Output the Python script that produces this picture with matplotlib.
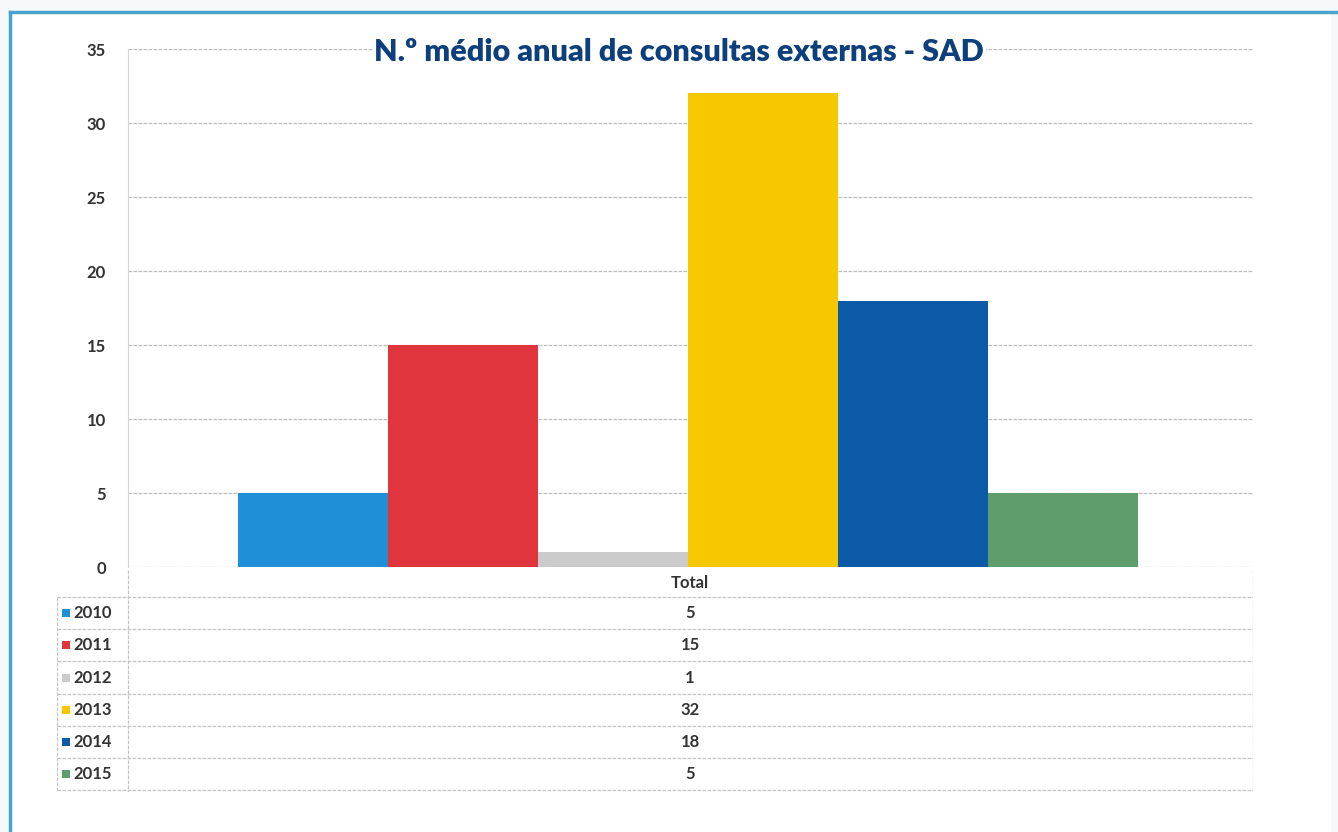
import matplotlib.pyplot as plt
from matplotlib.lines import Line2D
from matplotlib.patches import Rectangle

years = ['2010', '2011', '2012', '2013', '2014', '2015']
values = [5, 15, 1, 32, 18, 5]
colors = ['#1f8fd8', '#e0353d', '#cbcbcb', '#f7c800', '#0b5aa8', '#5e9e6c']
yticks = [0, 5, 10, 15, 20, 25, 30, 35]
title = 'N.º médio anual de consultas externas - SAD'

plt.rcParams['font.family'] = ['Lato', 'DejaVu Sans']
W, H = 1338, 832
fig = plt.figure(figsize=(W / 100, H / 100), dpi=100)
fig.patch.set_facecolor('#f6f9fc')

def fx(px):
    return px / W

def fy(py):
    return 1 - py / H

# outer frame (blue top and left edges)
fig.add_artist(Line2D([fx(10), 1], [fy(12), fy(12)], color='#4aa3cf', lw=2.5))
fig.add_artist(Line2D([fx(10), fx(10)], [fy(12), 0], color='#4aa3cf', lw=2.5))
fig.add_artist(Rectangle((fx(11), 0), fx(1320), fy(13), facecolor='white',
                         edgecolor='none', zorder=-1))

# bar chart
ax = fig.add_axes([fx(128), fy(567), fx(1253 - 128), fy(49) - fy(567)])
ax.set_facecolor('white')
x = list(range(len(values)))
ax.bar(x, values, width=1.0, color=colors, zorder=3)
ax.set_xlim(-1.233, 6.267)
ax.set_ylim(0, 35)
ax.set_yticks(yticks)
ax.set_yticklabels([str(t) for t in yticks], fontsize=12, fontweight='bold',
                   color='#333333')
ax.tick_params(axis='y', length=0, pad=16)
ax.set_xticks([])
ax.grid(axis='y', color='#bdbdbd', linestyle=(0, (3, 1)), lw=0.9, zorder=0)
for s in ['top', 'right', 'bottom']:
    ax.spines[s].set_visible(False)
ax.spines['left'].set_color('#d5d5d5')
ax.spines['left'].set_linestyle((0, (3, 1)))
ax.text(0.49, 0.994, title, transform=ax.transAxes, ha='center', va='center',
        fontsize=22, fontweight='heavy', color='#0d3f7c', zorder=5,
        bbox=dict(facecolor='white', edgecolor='none', pad=1))

# data table below the chart
tx = fig.add_axes([fx(57), fy(792), fx(1253 - 57), fy(570) - fy(792)])
tx.set_xlim(57, 1253)
tx.set_ylim(792, 570)
tx.axis('off')
grey = '#c4c4c4'
ls = (0, (3, 1))
row_top = 597
row_h = 32.2
tx.text(690, 583, 'Total', ha='center', va='center', fontsize=12,
        fontweight='bold', color='#333333')
tx.plot([128, 128], [570, 792], color=grey, lw=0.9, ls=ls)
tx.plot([1253, 1253], [570, 792], color=grey, lw=0.9, ls=ls)
tx.plot([57, 57], [row_top, 792], color=grey, lw=0.9, ls=ls)
for i, (yr, v, c) in enumerate(zip(years, values, colors)):
    y0 = row_top + i * row_h
    yc = y0 + row_h / 2
    tx.plot([57, 1253], [y0, y0], color=grey, lw=0.9, ls=ls)
    tx.add_patch(Rectangle((62, yc - 4), 8, 8, facecolor=c, edgecolor='none'))
    tx.text(73, yc, yr, ha='left', va='center', fontsize=12, fontweight='bold',
            color='#333333')
    tx.text(690, yc, str(v), ha='center', va='center', fontsize=12,
            fontweight='bold', color='#333333')
tx.plot([57, 1253], [row_top + 6 * row_h, row_top + 6 * row_h], color=grey,
        lw=0.9, ls=ls)

fig.savefig('out.png', dpi=100, facecolor=fig.get_facecolor())
